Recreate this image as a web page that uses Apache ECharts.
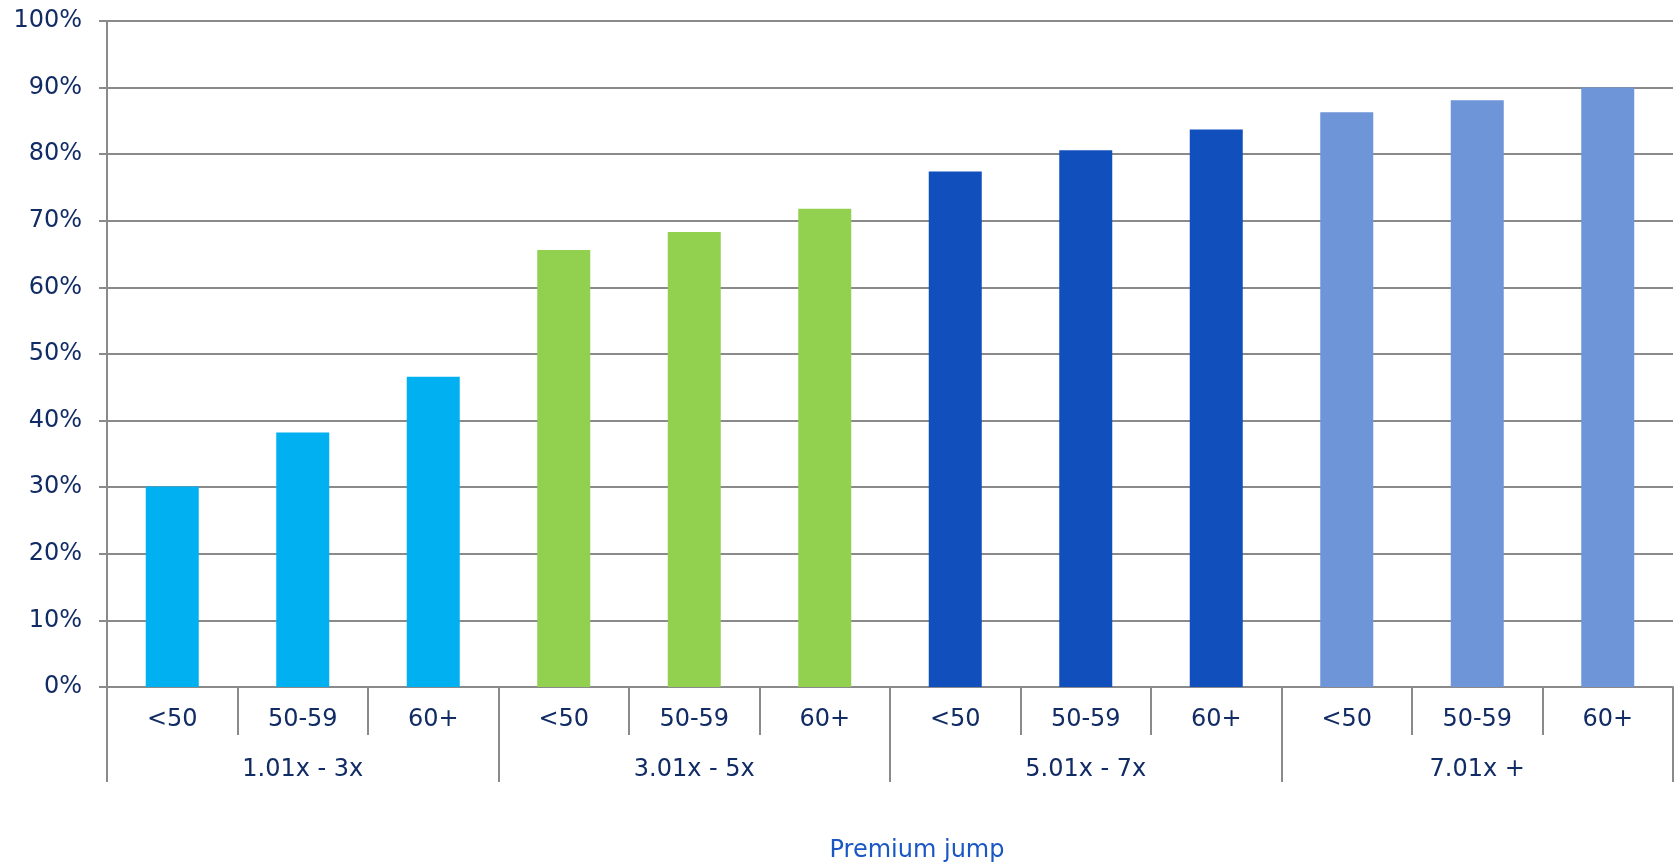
<!DOCTYPE html>
<html>
<head>
<meta charset="utf-8">
<script src="https://cdn.jsdelivr.net/npm/echarts@6/dist/echarts.min.js"></script>
<style>
  html, body { margin: 0; padding: 0; background: #ffffff; }
  #chart { width: 1678px; height: 864px; }
</style>
</head>
<body>
<div id="chart"></div>
<script>
// Age bands within each premium-jump band
const ageBands = ['<50', '50-59', '60+', '<50', '50-59', '60+', '<50', '50-59', '60+', '<50', '50-59', '60+'];
// Premium-jump bands (outer category level)
const jumpBands = ['1.01x - 3x', '3.01x - 5x', '5.01x - 7x', '7.01x +'];
// Share (%) for each age band, in order
const shares = [30.1, 38.2, 46.6, 65.6, 68.3, 71.8, 77.4, 80.6, 83.7, 86.3, 88.1, 90.0];
// One colour per premium-jump band
const bandColors = ['#00B0F0', '#92D050', '#104FBC', '#6F95D9'];
const axisTitle = 'Premium jump';

const textColor = '#112B64';
const lineColor = '#8A8A8A';
const fontFamily = 'DejaVu Sans';
const perBand = ageBands.length / jumpBands.length;

const chart = echarts.init(document.getElementById('chart'), null, { renderer: 'canvas' });

chart.setOption({
  animation: false,
  backgroundColor: '#ffffff',
  grid: { left: 107, right: 5, top: 21, bottom: 177, containLabel: false },
  xAxis: [
    {
      type: 'category',
      data: ageBands,
      position: 'bottom',
      axisLine: { show: true, lineStyle: { color: lineColor, width: 2 } },
      axisTick: { show: true, length: 48, lineStyle: { color: lineColor, width: 2 } },
      axisLabel: { color: textColor, fontFamily: fontFamily, fontSize: 24, margin: 21, interval: 0 },
      splitLine: { show: false }
    },
    {
      type: 'category',
      data: jumpBands,
      position: 'bottom',
      axisLine: { show: false },
      axisTick: { show: true, length: 95, lineStyle: { color: lineColor, width: 2 } },
      axisLabel: { color: textColor, fontFamily: fontFamily, fontSize: 24, margin: 71, interval: 0 },
      splitLine: { show: false }
    }
  ],
  yAxis: {
    type: 'value',
    min: 0,
    max: 100,
    interval: 10,
    axisLine: { show: true, lineStyle: { color: lineColor, width: 2 } },
    axisTick: { show: true, length: 8, lineStyle: { color: lineColor, width: 2 } },
    axisLabel: { color: textColor, fontFamily: fontFamily, fontSize: 24, margin: 25, formatter: '{value}%' },
    splitLine: { show: true, lineStyle: { color: lineColor, width: 2 } }
  },
  series: [
    {
      type: 'bar',
      xAxisIndex: 0,
      barWidth: 53,
      data: shares.map(function (v, i) {
        return { value: v, itemStyle: { color: bandColors[Math.floor(i / perBand)] } };
      })
    }
  ],
  graphic: [
    {
      type: 'text',
      x: 917,
      y: 851,
      style: {
        text: axisTitle,
        fill: '#1A56C4',
        font: '24px "DejaVu Sans"',
        align: 'center',
        verticalAlign: 'middle'
      }
    }
  ]
});
</script>
</body>
</html>
